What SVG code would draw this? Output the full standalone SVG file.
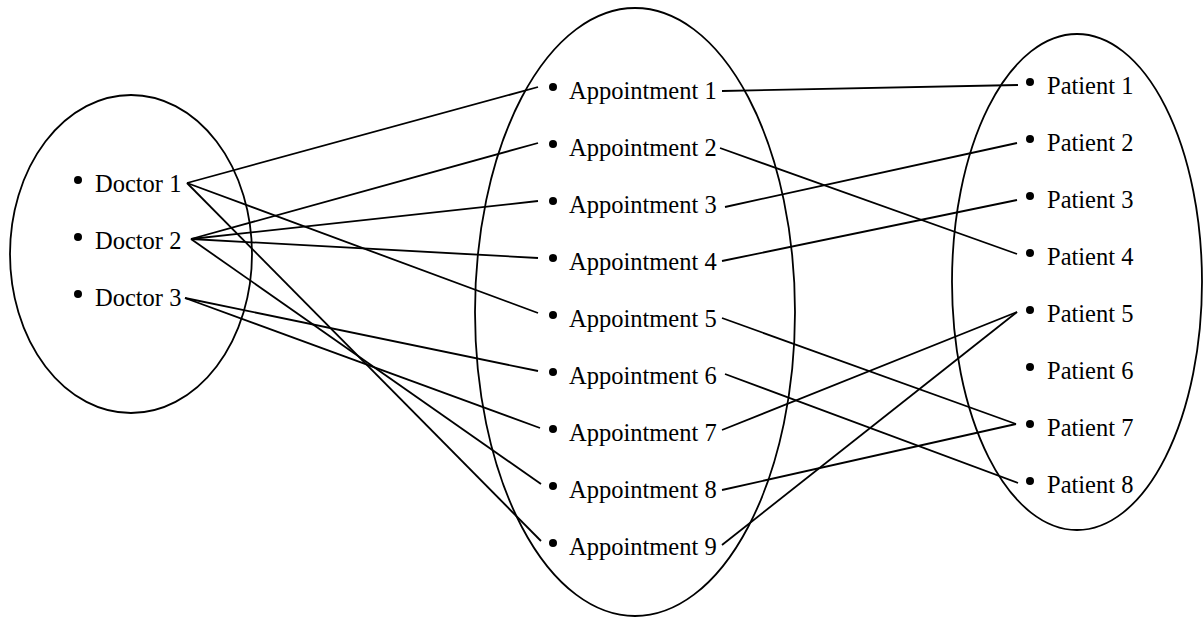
<svg xmlns="http://www.w3.org/2000/svg" width="1203" height="619" viewBox="0 0 1203 619">
<style>
.set{fill:none;stroke:#000;stroke-width:1.8}
.lbl{font-family:"Liberation Serif","Times New Roman",serif;font-size:24.5px;fill:#000}
.dot{fill:#000}
.conn line{stroke:#000;stroke-width:1.8}
</style>
<rect width="1203" height="619" fill="#fff"/>
<g id="sets">
<ellipse id="doctors" class="set" cx="131" cy="254" rx="121" ry="159"/>
<ellipse id="appointments" class="set" cx="635" cy="312" rx="160" ry="304"/>
<ellipse id="patients" class="set" cx="1077" cy="282" rx="125" ry="248"/>
</g>
<g class="conn" id="connectors">
<line x1="187" y1="183" x2="538" y2="87"/>
<line x1="187" y1="183" x2="538" y2="313"/>
<line x1="187" y1="183" x2="541" y2="541"/>
<line x1="191" y1="239" x2="538" y2="143"/>
<line x1="191" y1="239" x2="538" y2="201"/>
<line x1="191" y1="239" x2="538" y2="258"/>
<line x1="191" y1="239" x2="541" y2="484"/>
<line x1="185" y1="298" x2="538" y2="371"/>
<line x1="185" y1="298" x2="540" y2="428"/>
<line x1="722" y1="91" x2="1018" y2="85"/>
<line x1="720" y1="148" x2="1017" y2="254"/>
<line x1="725" y1="207" x2="1017" y2="143"/>
<line x1="722" y1="261" x2="1017" y2="200"/>
<line x1="722" y1="318" x2="1016" y2="424"/>
<line x1="725" y1="374" x2="1018" y2="483"/>
<line x1="722" y1="430" x2="1017" y2="312"/>
<line x1="722" y1="490" x2="1016" y2="424"/>
<line x1="722" y1="545" x2="1017" y2="312"/>
</g>
<g id="doctor1"><circle class="dot" cx="78" cy="180" r="4"/><text class="lbl" x="95" y="192">Doctor 1</text></g>
<g id="doctor2"><circle class="dot" cx="78" cy="237" r="4"/><text class="lbl" x="95" y="249">Doctor 2</text></g>
<g id="doctor3"><circle class="dot" cx="78" cy="294" r="4"/><text class="lbl" x="95" y="306">Doctor 3</text></g>
<g id="appt1"><circle class="dot" cx="553" cy="87" r="4"/><text class="lbl" x="569" y="99">Appointment 1</text></g>
<g id="appt2"><circle class="dot" cx="553" cy="144" r="4"/><text class="lbl" x="569" y="156">Appointment 2</text></g>
<g id="appt3"><circle class="dot" cx="553" cy="201" r="4"/><text class="lbl" x="569" y="213">Appointment 3</text></g>
<g id="appt4"><circle class="dot" cx="553" cy="258" r="4"/><text class="lbl" x="569" y="270">Appointment 4</text></g>
<g id="appt5"><circle class="dot" cx="553" cy="315" r="4"/><text class="lbl" x="569" y="327">Appointment 5</text></g>
<g id="appt6"><circle class="dot" cx="553" cy="372" r="4"/><text class="lbl" x="569" y="384">Appointment 6</text></g>
<g id="appt7"><circle class="dot" cx="553" cy="429" r="4"/><text class="lbl" x="569" y="441">Appointment 7</text></g>
<g id="appt8"><circle class="dot" cx="553" cy="486" r="4"/><text class="lbl" x="569" y="498">Appointment 8</text></g>
<g id="appt9"><circle class="dot" cx="553" cy="543" r="4"/><text class="lbl" x="569" y="555">Appointment 9</text></g>
<g id="patient1"><circle class="dot" cx="1030" cy="82" r="4"/><text class="lbl" x="1047" y="94">Patient 1</text></g>
<g id="patient2"><circle class="dot" cx="1030" cy="139" r="4"/><text class="lbl" x="1047" y="151">Patient 2</text></g>
<g id="patient3"><circle class="dot" cx="1030" cy="196" r="4"/><text class="lbl" x="1047" y="208">Patient 3</text></g>
<g id="patient4"><circle class="dot" cx="1030" cy="253" r="4"/><text class="lbl" x="1047" y="265">Patient 4</text></g>
<g id="patient5"><circle class="dot" cx="1030" cy="310" r="4"/><text class="lbl" x="1047" y="322">Patient 5</text></g>
<g id="patient6"><circle class="dot" cx="1030" cy="367" r="4"/><text class="lbl" x="1047" y="379">Patient 6</text></g>
<g id="patient7"><circle class="dot" cx="1030" cy="424" r="4"/><text class="lbl" x="1047" y="436">Patient 7</text></g>
<g id="patient8"><circle class="dot" cx="1030" cy="481" r="4"/><text class="lbl" x="1047" y="493">Patient 8</text></g>
</svg>
